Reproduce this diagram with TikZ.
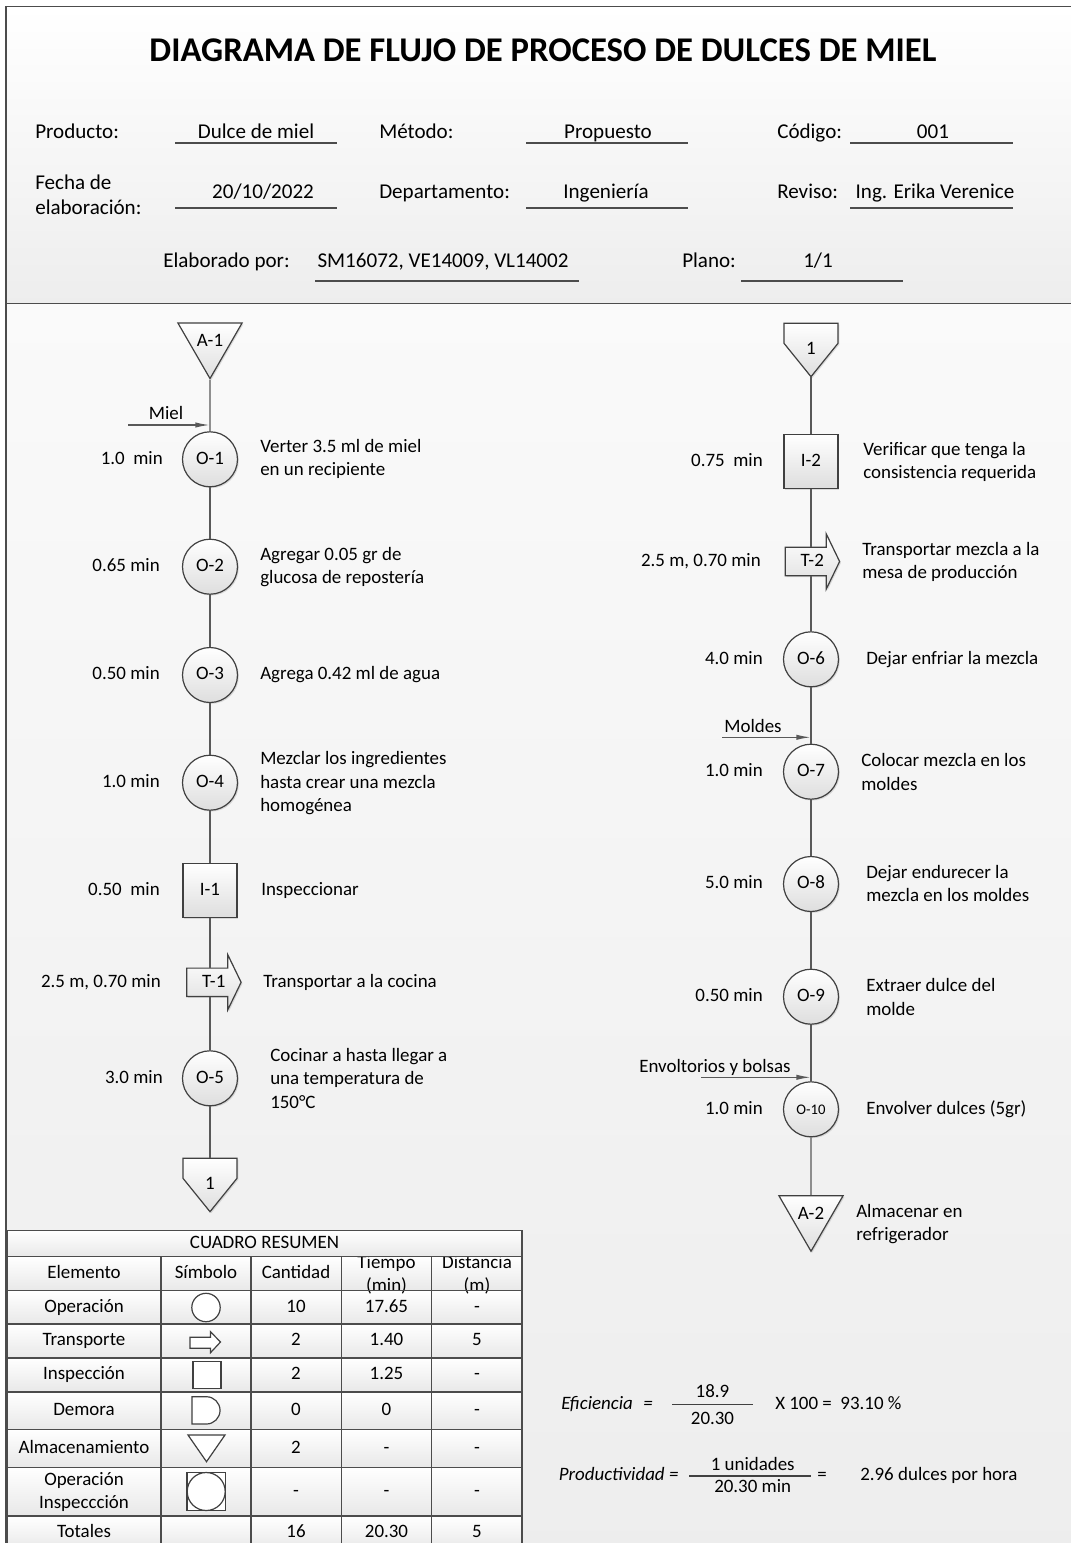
\documentclass[tikz,border=0pt]{standalone}
\usepackage{fontspec}
\setmainfont{Carlito}
\usetikzlibrary{shapes.geometric,arrows.meta,shadows}

\tikzset{
	varias/.style={font=\fontsize{14.2}{17.5}\selectfont, inner sep=0pt},
	txt/.style={varias, text height=10.2pt, text depth=2.9pt},
	desc/.style={txt, anchor=west},
	descs/.style={varias, anchor=west, align=left},
	tiempo/.style={txt, anchor=east},
	campo/.style={font=\fontsize{15.8}{18.8}\selectfont, inner sep=0pt, text height=11.4pt, text depth=3.2pt},
	sombra/.style={drop shadow={shadow xshift=1pt, shadow yshift=-1pt, opacity=0.25}},
	forma/.style={draw=black!75, line width=0.9pt, top color=white, bottom color=black!13, sombra},
	oper/.style={txt, forma, circle, minimum size=41.25pt},
	insp/.style={txt, forma, rectangle, minimum size=40.5pt},
	alm/.style={txt, forma, regular polygon, regular polygon sides=3, shape border rotate=180, minimum size=54.5pt},
	hueco/.style={txt, rectangle},
	flujo/.style={draw=black!65, line width=1.1pt},
	entrada/.style={flujo, -{Latex[length=11pt,width=4pt]}},
	marco/.style={draw=black!70, line width=1.1pt},
	raya/.style={draw=black!70, line width=1.1pt},
	celda/.style={txt},
	celdas/.style={varias, align=center},
}

\begin{document}
\begin{tikzpicture}[x=0.75pt, y=-0.75pt]
	\useasboundingbox (0,0) rectangle (1071,1543);
	\clip (0,0) rectangle (1071,1543);

	% fondo y marco
	\shade[top color=white, bottom color=black!7] (6,6.7) rectangle (1080,303.3);
	\shade[top color=black!2, bottom color=black!7] (6,303.3) rectangle (1080,1565);
	\draw[marco] (1080,6.7) -- (6,6.7) -- (6,1565);
	\draw[marco] (6,303.3) -- (1080,303.3);

	% encabezado
	\node[font=\fontsize{26}{30}\selectfont\bfseries, inner sep=0pt, text height=18pt, text depth=5pt] (titulo) at (543,53)
		{DIAGRAMA DE FLUJO DE PROCESO DE DULCES DE MIEL};

	\foreach \n/\x/\y/\t in {prod/35/133/Producto:, met/379/133/M\'etodo:, cod/777/133/C\'odigo:,
		dep/379/193/Departamento:, rev/777/193/Reviso:, elab/163/262/Elaborado por:, plano/682/262/Plano:}
		\node[campo, anchor=west] (\n) at (\x,\y) {\t};
	\node[font=\fontsize{15.8}{18.8}\selectfont, inner sep=0pt, anchor=west, align=left] (fecha) at (35,194.5)
		{Fecha de\\elaboraci\'on:};

	\foreach \n/\x/\y/\t in {vprod/256/133/Dulce de miel, vmet/608/133/Propuesto, vcod/933/133/001,
		vfecha/263/193/{20/10/2022}, vdep/606/193/Ingenier\'ia, vrev/935/193/Ing. Erika Verenice,
		velab/443/262/{SM16072, VE14009, VL14002}, vplano/818/262/{1/1}}
		\node[campo] (\n) at (\x,\y) {\t};

	\foreach \xa/\xb/\y in {175/337/143, 526/688/143, 850/1013/143,
		175/337/208, 526/688/208, 850/1013/208, 315/579/281, 741/903/281}
		\draw[raya] (\xa,\y) -- (\xb,\y);

	% conectores de pagina y transportes
	\foreach \n/\x/\y in {c1/210/1185, c2/811/350}
	{
		\path[forma] (\x,\y) ++(-27,-26.7) -- ++(54,0) -- ++(0,20) -- ++(-27,33.4) -- ++(-27,-33.4) -- cycle;
		\node[hueco, minimum width=40.5pt, minimum height=40pt] (\n) at (\x,\y) {1};
	}
	\foreach \n/\x/\y/\l in {t1/213.8/982.3/T-1, t2/812.3/561.5/T-2}
	{
		\path[forma] (\x,\y) ++(-27,-14.2) -- ++(41,0) -- ++(0,-13.3) -- ++(13.3,27.5)
			-- ++(-13.3,27.5) -- ++(0,-13.3) -- ++(-41,0) -- cycle;
		\node[hueco, minimum width=40.5pt, minimum height=21.3pt] (\n) at (\x,\y) {\l};
	}

	% columna izquierda
	\node[alm] (a1) at (210,341.5) {A-1};
	\foreach \n/\y in {1/459.3,2/566.7,3/675,4/782.7,5/1078.3}
		\node[oper] (o\n) at (210,\y) {O-\n};
	\node[insp] (i1) at (210,890.3) {I-1};

	% columna derecha
	\node[insp] (i2) at (811,461.3) {I-2};
	\foreach \n/\y in {6/659.3,7/771.7,8/884,9/996.7}
		\node[oper] (o\n) at (811,\y) {O-\n};
	\node[oper, font=\fontsize{11}{13}\selectfont] (o10) at (811,1109.3) {O-10};
	\node[alm] (a2) at (811,1214.2) {A-2};

	\foreach \a/\b in {a1/o1,o1/o2,o2/o3,o3/o4,o4/i1,o5/c1,
		c2/i2,o6/o7,o7/o8,o8/o9,o9/o10,o10/a2}
		\draw[flujo] (\a) -- (\b);
	\draw[flujo] (i1) -- (i1 |- t1.north);
	\draw[flujo] (t1.south -| o5) -- (o5);
	\draw[flujo] (i2) -- (i2 |- t2.north);
	\draw[flujo] (t2.south -| o6) -- (o6);

	% tiempos
	\foreach \n/\x/\y/\t in {o1/163/459.3/{1.0\ \ min}, o2/160/566.7/0.65 min, o3/160/675/0.50 min,
		o4/160/782.7/1.0 min, i1/160/890.3/{0.50\ \ min}, t1/161/982.3/{2.5 m, 0.70 min}, o5/163/1078.3/3.0 min,
		i2/763/461.3/{0.75\ \ min}, t2/761/561.5/{2.5 m, 0.70 min}, o6/763/659.3/4.0 min, o7/763/771.7/1.0 min,
		o8/763/884/5.0 min, o9/763/996.7/0.50 min, o10/763/1109.3/1.0 min}
		\node[tiempo] (tt\n) at (\x,\y) {\t};

	% descripciones
	\foreach \n/\x/\y/\t in {o3/260/675/Agrega 0.42 ml de agua, i1/261/890.3/Inspeccionar,
		t1/263/982.3/Transportar a la cocina, o6/866/659.3/Dejar enfriar la mezcla,
		o10/866/1109.3/Envolver dulces (5gr)}
		\node[desc] (d\n) at (\x,\y) {\t};
	\foreach \n/\x/\y/\t in {o1/260/459/{Verter 3.5 ml de miel\\en un recipiente},
		o2/260/567.3/{Agregar 0.05 gr de\\glucosa de reposter\'ia},
		o4/260/783.3/{Mezclar los ingredientes\\hasta crear una mezcla\\homog\'enea},
		o5/270/1078.3/{Cocinar a hasta llegar a\\una temperatura de\\150\textdegree C},
		i2/863/462/{Verificar que tenga la\\consistencia requerida},
		t2/862/562/{Transportar mezcla a la\\mesa de producci\'on},
		o7/861/772/{Colocar mezcla en los\\moldes},
		o8/866/883.7/{Dejar endurecer la\\mezcla en los moldes},
		o9/866/997/{Extraer dulce del\\molde},
		a2/856/1224/{Almacenar en\\refrigerador}}
		\node[descs] (d\n) at (\x,\y) {\t};

	% entradas de material
	\coordinate (miel) at (128,425);
	\draw[entrada] (miel) -- (miel -| o1);
	\node[txt] (lmiel) at (166,415) {Miel};
	\coordinate (moldes) at (722,737.3);
	\draw[entrada] (moldes) -- (moldes -| o7);
	\node[txt] (lmoldes) at (753,727.3) {Moldes};
	\coordinate (envolt) at (701,1077.3);
	\draw[entrada] (envolt) -- (envolt -| o10);
	\node[txt] (lenvolt) at (715,1067.3) {Envoltorios y bolsas};

	% cuadro resumen
	\foreach \ya/\yb in {1256.7/1290.7,1290.7/1324,1324/1358,1358/1392,1392/1429.3,1429.3/1467.3,1467.3/1516,1516/1550}
		\shade[top color=white, bottom color=black!9] (7.5,\ya) rectangle (522,\yb);
	\foreach \n/\x/\t in {h1/84/Elemento, h2/206/S\'imbolo, h3/296/Cantidad}
		\node[celda] (\n) at (\x,1274) {\t};
	\foreach \n/\x/\t in {h4/386.5/{Tiempo\\(min)}, h5/477/{Distancia\\(m)}}
		\node[celdas] (\n) at (\x,1275) {\t};
	\shade[top color=white, bottom color=black!9, draw=black!70, line width=1.1pt] (7.5,1230.7) rectangle (522,1256.7);
	\node[txt] (cuadro) at (264.5,1243.7) {CUADRO RESUMEN};
	\foreach \y in {1256.7,1290.7,1324,1358,1392,1429.3,1467.3,1516,1550}
		\draw[raya] (7.5,\y) -- (522,\y);
	\foreach \x in {7.5,161,251,341.5,431.5,522}
		\draw[raya] (\x,1256.7) -- (\x,1550);

	\foreach \i/\el/\yc/\ca/\ti/\di in {1/Operaci\'on/1307.5/10/17.65/-, 2/Transporte/1341/2/1.40/5,
		3/Inspecci\'on/1375/2/1.25/-, 4/Demora/1410.7/0/0/-, 5/Almacenamiento/1448.3/2/-/-,
		7/Totales/1533/16/20.30/5}
	{
		\node[celda] (el\i) at (84,\yc) {\el};
		\node[celda] (ca\i) at (296,\yc) {\ca};
		\node[celda] (ti\i) at (386.5,\yc) {\ti};
		\node[celda] (di\i) at (477,\yc) {\di};
	}
	\node[celdas] (el6) at (84,1492) {Operaci\'on\\Inspeccci\'on};
	\foreach \n/\x in {ca6/296, ti6/386.5, di6/477}
		\node[celda] (\n) at (\x,1492) {-};

	% simbolos del cuadro
	\begin{scope}[draw=black!75, line width=0.9pt, fill=white]
		\filldraw (206,1307.5) circle (14.2);
		\filldraw (190,1337.3) -- (210.5,1337.3) -- (210.5,1331.7) -- (220.5,1342) -- (210.5,1352.7)
			-- (210.5,1348.3) -- (190,1348.3) -- cycle;
		\filldraw (193,1361.3) rectangle (221,1388.3);
		\filldraw (192,1396.7) -- (206.4,1396.7) arc[start angle=-90, end angle=90, radius=13.65]
			-- (192,1424) -- cycle;
		\filldraw (188,1435) -- (225,1435) -- (206.5,1461.7) -- cycle;
		\filldraw (187,1472.3) rectangle (225.5,1510.7);
		\draw (206.2,1491.5) circle (19);
	\end{scope}

	% eficiencia y productividad
	\node[txt, anchor=west] (efic) at (561,1405) {\textit{Eficiencia}};
	\node[txt] (efigual) at (648,1405) {\textit{=}};
	\node[txt] (efnum) at (712.5,1393) {18.9};
	\node[txt] (efden) at (712.5,1419.3) {20.30};
	\draw[draw=black!75, line width=0.9pt] (672,1404.3) -- (753,1404.3);
	\node[txt, anchor=west] (efres) at (775,1405) {X 100 = \ 93.10 \%};

	\node[txt, anchor=west] (prod) at (558.6,1475.7) {\textit{Productividad =}};
	\node[txt] (prnum) at (752.7,1465.5) {1 unidades};
	\node[txt] (prden) at (752.7,1487.3) {20.30 min};
	\draw[draw=black!75, line width=0.9pt] (689,1476) -- (811,1476);
	\node[txt] (prigual) at (822,1475.7) {=};
	\node[txt, anchor=west] (prres) at (860,1475.7) {2.96 dulces por hora};
\end{tikzpicture}
\end{document}
